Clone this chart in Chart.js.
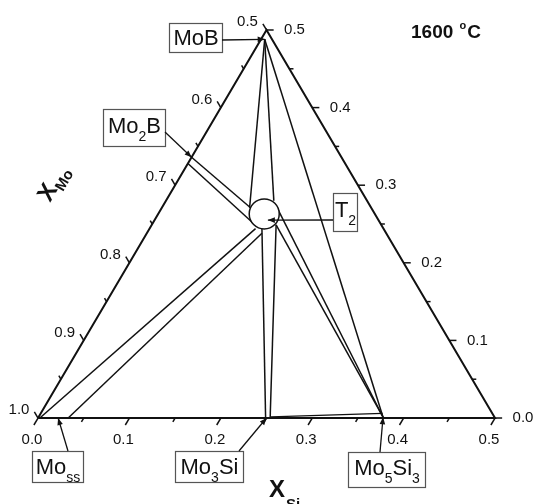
<!DOCTYPE html>
<html>
<head>
<meta charset="utf-8">
<script src="https://cdn.jsdelivr.net/npm/chart.js@4.4.0/dist/chart.umd.min.js"></script>
<style>
  html, body { margin: 0; padding: 0; background: #fff; }
  #wrap { width: 536px; height: 504px; }
</style>
</head>
<body>
<div id="wrap"><canvas id="c" width="536" height="504"></canvas></div>
<script>
// compositions are [xSi, xB]; xMo = 1 - xSi - xB
const moB = [0.004, 0.488];
const mo2B = [0.000, 0.336];
const mo3Si = [0.250, 0.000];
const mo5Si3 = [0.377, 0.001];
const moss = [0.022, 0.000];
const t2 = [0.124, 0.255];
const t2Circle = [0.116, 0.263];

const triangleEdge = [[0, 0], [0.5, 0], [0, 0.5], [0, 0]];
const moB_T2Left = [moB, [0.096, 0.271]];
const moB_T2Right = [moB, [0.118, 0.280]];
const moB_Mo5Si3 = [moB, mo5Si3];
const mo2B_T2Upper = [[0.000, 0.336], [0.097, 0.271]];
const mo2B_T2Lower = [[0.000, 0.328], [0.110, 0.251]];
const t2_Mo5Si3Upper = [[0.126, 0.271], mo5Si3];
const t2_Mo5Si3Lower = [[0.136, 0.249], mo5Si3];
const t2_Mo3SiLeft = [[0.123, 0.244], [0.249, 0.000]];
const t2_Mo3SiRight = [[0.136, 0.249], [0.254, 0.000]];
const moss_T2Upper = [[0.002, 0.000], [0.116, 0.244]];
const moss_T2Lower = [[0.033, 0.000], [0.126, 0.238]];
const mo3Si_Mo5Si3 = [[0.254, 0.0015], [0.374, 0.006]];

const siTicks = [0, 0.1, 0.2, 0.3, 0.4, 0.5];
const bTicks = [0, 0.1, 0.2, 0.3, 0.4, 0.5];
const moTicks = [0.5, 0.6, 0.7, 0.8, 0.9, 1.0];
const siMinor = [0.05, 0.15, 0.25, 0.35, 0.45];
const bMinor = [0.05, 0.15, 0.25, 0.35, 0.45];
const moMinor = [0.55, 0.65, 0.75, 0.85, 0.95];

// sub-triangle Mo / MoB / Mo0.5Si0.5 flattened onto x-y
const toXY = (p) => ({ x: 2 * p[0] + p[1], y: 2 * p[1] });

const FONT = '"Liberation Sans", Arial, sans-serif';
const INK = '#111';

const lineSet = (pts, w) => ({
  data: pts.map(toXY), showLine: true, borderColor: INK, borderWidth: w || 1.5,
  pointRadius: 0, fill: false, tension: 0,
});

const phaseLabels = [
  { parts: [['MoB']], box: [169, 23, 53, 29], base: 45, from: [222, 40], to: moB },
  { parts: [['Mo'], ['2', 1], ['B']], box: [103, 109, 62, 37], base: 133, from: [165, 132], to: mo2B },
  { parts: [['T'], ['2', 1]], box: [333, 193, 24, 38], base: 217, from: [333, 220], to: t2 },
  { parts: [['Mo'], ['ss', 1]], box: [32, 451, 51, 31], base: 474, from: [68, 451], to: moss },
  { parts: [['Mo'], ['3', 1], ['Si']], box: [175, 451, 68, 31], base: 474, from: [239, 451], to: mo3Si },
  { parts: [['Mo'], ['5', 1], ['Si'], ['3', 1]], box: [348, 452, 77, 35], base: 475, from: [380, 452], to: mo5Si3 },
];

function richText(ctx, parts, cx, base, big, small, drop) {
  const fonts = parts.map((p) => (p[1] ? small : big));
  const widths = parts.map((p, i) => { ctx.font = fonts[i]; return ctx.measureText(p[0]).width; });
  let x = cx - widths.reduce((a, b) => a + b, 0) / 2;
  ctx.textAlign = 'left';
  ctx.textBaseline = 'alphabetic';
  parts.forEach((p, i) => {
    ctx.font = fonts[i];
    ctx.fillText(p[0], x, p[1] ? base + drop : base);
    x += widths[i];
  });
}

function arrow(ctx, x0, y0, x1, y1) {
  ctx.beginPath(); ctx.moveTo(x0, y0); ctx.lineTo(x1, y1); ctx.stroke();
  const a = Math.atan2(y1 - y0, x1 - x0);
  ctx.beginPath();
  ctx.moveTo(x1, y1);
  ctx.lineTo(x1 - 7 * Math.cos(a) + 2.8 * Math.sin(a), y1 - 7 * Math.sin(a) - 2.8 * Math.cos(a));
  ctx.lineTo(x1 - 7 * Math.cos(a) - 2.8 * Math.sin(a), y1 - 7 * Math.sin(a) + 2.8 * Math.cos(a));
  ctx.closePath(); ctx.fill();
}

const decor = {
  id: 'decor',
  afterDraw(chart) {
    const { ctx } = chart;
    const P = (p) => { const q = toXY(p); return [chart.scales.x.getPixelForValue(q.x), chart.scales.y.getPixelForValue(q.y)]; };
    ctx.save();
    ctx.strokeStyle = INK; ctx.fillStyle = INK; ctx.lineWidth = 1.5;
    const seg = (a, b) => { const [x0, y0] = P(a); const [x1, y1] = P(b); ctx.beginPath(); ctx.moveTo(x0, y0); ctx.lineTo(x1, y1); ctx.stroke(); };

    // ticks: along iso-lines, pointing out of the triangle
    siTicks.forEach((v) => seg([v, 0], [v, -0.009]));
    siMinor.forEach((v) => seg([v, 0], [v, -0.005]));
    bTicks.forEach((v) => seg([0.5 - v, v], [0.5 - v + 0.0078, v]));
    bMinor.forEach((v) => seg([0.5 - v, v], [0.5 - v + 0.0045, v]));
    moTicks.forEach((m) => seg([0, 1 - m], [-0.008, 1 - m + 0.008]));
    moMinor.forEach((m) => seg([0, 1 - m], [-0.0045, 1 - m + 0.0045]));

    ctx.font = '15px ' + FONT; ctx.textAlign = 'center'; ctx.textBaseline = 'middle';
    siTicks.forEach((v) => { const [x, y] = P([v, 0]); ctx.fillText(v.toFixed(1), x - 6, y + 22); });
    bTicks.forEach((v) => { const [x, y] = P([0.5 - v, v]); ctx.fillText(v.toFixed(1), x + 28, y); });
    moTicks.forEach((m) => { const [x, y] = P([0, 1 - m]); ctx.fillText(m.toFixed(1), x - 19, y - 8); });

    // title
    ctx.textAlign = 'left'; ctx.textBaseline = 'alphabetic';
    ctx.font = 'bold 19px ' + FONT;
    ctx.fillText('1600 ', 411, 38);
    let tx = 411 + ctx.measureText('1600 ').width + 1;
    ctx.font = 'bold 11px ' + FONT;
    ctx.fillText('o', tx, 29);
    tx += ctx.measureText('o').width + 1;
    ctx.font = 'bold 19px ' + FONT;
    ctx.fillText('C', tx, 38);

    // axis titles
    ctx.save();
    ctx.translate(47, 192); ctx.rotate(-Math.PI / 3);
    ctx.font = 'bold 24px ' + FONT; ctx.fillText('X', -8, 8);
    ctx.font = 'bold 15px ' + FONT; ctx.fillText('Mo', 8, 14);
    ctx.restore();
    ctx.font = 'bold 24px ' + FONT; ctx.fillText('X', 269, 497);
    ctx.font = 'bold 15px ' + FONT; ctx.fillText('Si', 286, 509);

    // phase label boxes with arrows
    phaseLabels.forEach((l) => {
      const [bx, by, bw, bh] = l.box;
      ctx.fillStyle = '#fff'; ctx.fillRect(bx, by, bw, bh);
      ctx.strokeStyle = '#555'; ctx.lineWidth = 1.2; ctx.strokeRect(bx + 0.5, by + 0.5, bw, bh);
      ctx.fillStyle = INK; ctx.strokeStyle = INK; ctx.lineWidth = 1.3;
      richText(ctx, l.parts, bx + bw / 2 + 0.5, l.base, '22px ' + FONT, '14px ' + FONT, 8);
      const [x1, y1] = P(l.to);
      arrow(ctx, l.from[0], l.from[1], x1, y1);
    });
    ctx.restore();
  },
};

new Chart(document.getElementById('c'), {
  type: 'scatter',
  data: {
    datasets: [
      { data: [toXY(t2Circle)], pointRadius: 15, pointBorderWidth: 1.5, pointBackgroundColor: '#fff', pointBorderColor: INK, order: -1 },
      lineSet(triangleEdge, 2),
      lineSet(moB_T2Left), lineSet(moB_T2Right), lineSet(moB_Mo5Si3),
      lineSet(mo2B_T2Upper), lineSet(mo2B_T2Lower),
      lineSet(t2_Mo5Si3Upper), lineSet(t2_Mo5Si3Lower),
      lineSet(t2_Mo3SiLeft), lineSet(t2_Mo3SiRight),
      lineSet(moss_T2Upper), lineSet(moss_T2Lower),
      lineSet(mo3Si_Mo5Si3, 1.2),
    ],
  },
  options: {
    responsive: false, animation: false, events: [],
    layout: { padding: 0, autoPadding: false },
    plugins: { legend: { display: false }, tooltip: { enabled: false } },
    scales: {
      x: { type: 'linear', display: false, min: -0.0832, max: 1.0897 },
      y: { type: 'linear', display: false, min: -0.2216, max: 1.0773 },
    },
  },
  plugins: [decor],
});
</script>
</body>
</html>
